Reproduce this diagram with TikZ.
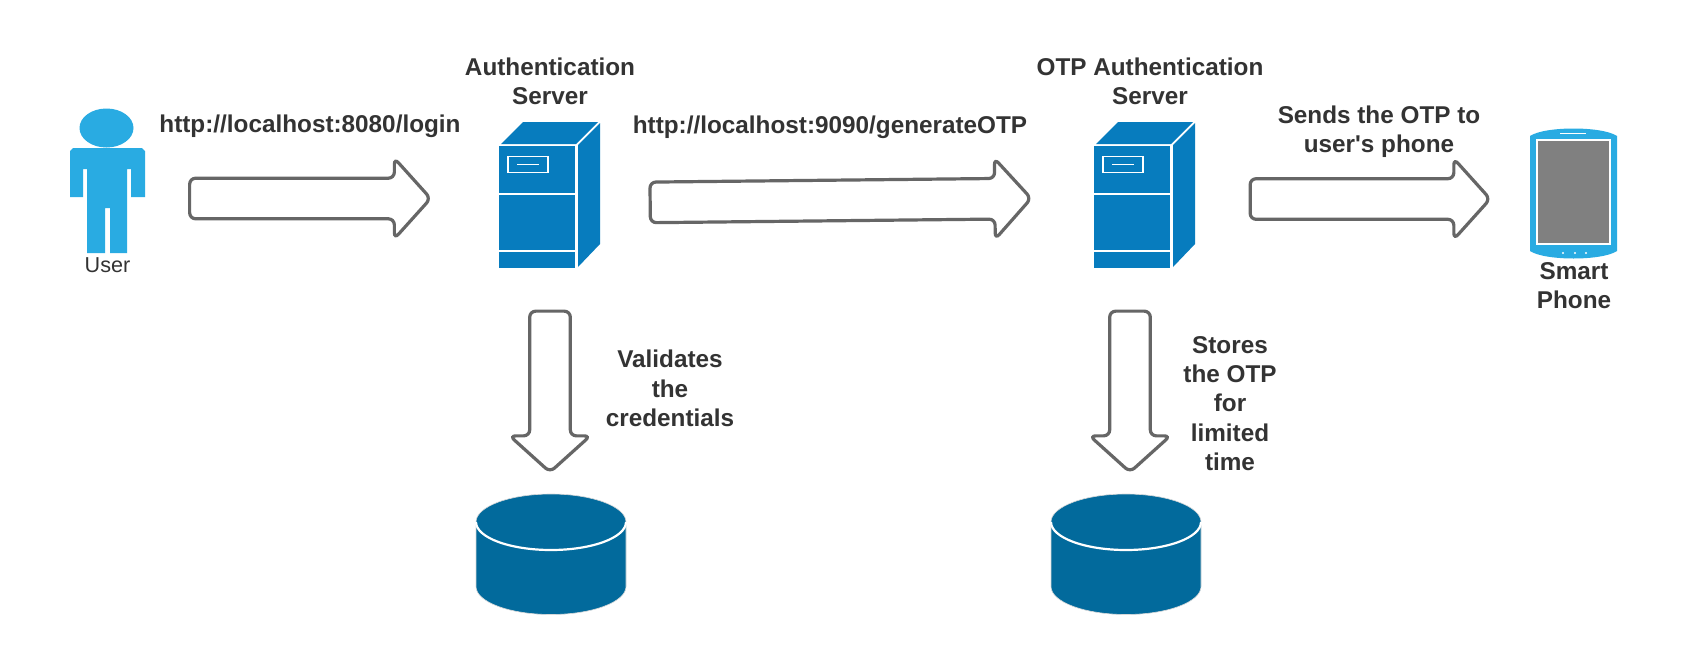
\documentclass[tikz,border=0pt]{standalone}
\usepackage{fontspec}
\setmainfont{Liberation Sans}
\usetikzlibrary{shapes.arrows}
\definecolor{MyBlue}{HTML}{29ABE2}
\definecolor{MyServer}{HTML}{077CBE}
\definecolor{MyDisk}{HTML}{026A9C}
\definecolor{MyLine}{HTML}{666666}
\definecolor{MyText}{HTML}{333333}
\tikzset{
    bigarrow/.style={single arrow,draw=MyLine,line width=1.6pt,fill=white,rounded corners=3pt,
        inner sep=0pt,outer sep=0pt,text height=18.7pt,text depth=0pt,single arrow head extend=10pt,
        single arrow tip angle=96,single arrow head indent=0pt},
    boldtext/.style={text=MyText,align=center,inner sep=0pt,font=\fontsize{12.15}{14.6}\selectfont\bfseries},
    servericon/.pic={
        \fill[MyServer] (0,0) rectangle (76,122);
        \fill[MyServer] (2,-2) -- (24,-24) -- (99,-24) -- (77,-2) -- cycle;
        \fill[MyServer] (79,-1) -- (101,-23) -- (101,98) -- (79,121) -- cycle;
        \draw[white,line width=.75pt] (0,48) -- (76,48);
        \draw[white,line width=.75pt] (0,105) -- (76,105);
        \draw[white,line width=.75pt] (9,10.5) rectangle (49,26.5);
        \draw[white,line width=.75pt] (18,18.5) -- (40,18.5);
    },
    diskicon/.pic={
        \path[fill=MyDisk,draw=white!85!black,line width=.3pt] (-75,0) arc (180:360:75 and 28) -- (75,64.5) arc (0:180:75 and 28) -- cycle;
        \draw[white,line width=1.1pt] (-75,0) arc (180:0:75 and 28);
    }
}
\begin{document}
\begin{tikzpicture}[x=0.5pt,y=-0.5pt]
    \useasboundingbox[fill=white] (0,0) rectangle (1688,669);

    % user
    \fill[MyBlue] (106.5,128) ellipse (27 and 19.5);
    \fill[MyBlue] (70,197) -- (70,151) -- (73,148) -- (142,148) -- (145,151) -- (145,197) -- (131,197) -- (131,169)
        -- (127,169) -- (127,253) -- (110,253) -- (110,208) -- (105,208) -- (105,253) -- (87,253)
        -- (87,169) -- (83,169) -- (83,197) -- cycle;
    \node[text=MyText,inner sep=0pt,font=\fontsize{10.8}{13}\selectfont] (userlabel) at (107.5,265){User};

    % top row of arrows
    \node[bigarrow,minimum height=120.5pt] (loginarrow) at (301,198.5){};
    \node[bigarrow,minimum height=190.5pt,rotate=0.6] (otparrow) at (831.5,200.5){};
    \node[bigarrow,minimum height=120pt] (phonearrow) at (1361,199){};

    \node[boldtext] (loginlabel) at (310,126){http://localhost:8080/login};
    \node[boldtext] (otplabel) at (830,127){http://localhost:9090/generateOTP};
    \node[boldtext] (phonelabel) at (1379,132){Sends the OTP to\\user\textquotesingle s phone};

    % servers
    \pic (authserver) at (499,146) {servericon};
    \pic (otpserver) at (1094,146) {servericon};
    \node[boldtext] (authlabel) at (550,81){Authentication\\Server};
    \node[boldtext] (otpserverlabel) at (1150,81){OTP Authentication\\Server};

    % phone
    \fill[MyBlue] (1530,136) .. controls (1545,126) and (1602,126) .. (1617,136) -- (1617,251)
        .. controls (1602,261) and (1545,261) .. (1530,251) -- cycle;
    \fill[white] (1536,139) rectangle (1611,245);
    \fill[gray] (1538,141) rectangle (1609,243);
    \draw[white,line width=.8pt] (1560,133.5) -- (1586,133.5);
    \foreach \dotx in {1563,1575,1586}
        \fill[white] (\dotx,253) circle (1.2);
    \node[boldtext] (phonename) at (1574,286){Smart\\Phone};

    % databases
    \node[bigarrow,minimum height=80.5pt,rotate=-90] (checkarrow) at (550,382.5){};
    \node[bigarrow,minimum height=80.5pt,rotate=-90] (storearrow) at (1130,382.5){};
    \pic (authdisk) at (551,522) {diskicon};
    \pic (otpdisk) at (1126,522) {diskicon};
    \node[boldtext] (checklabel) at (670,388.5){Validates\\the\\credentials};
    \node[boldtext] (storelabel) at (1230,403.5){Stores\\the OTP\\for\\limited\\time};
\end{tikzpicture}
\end{document}
